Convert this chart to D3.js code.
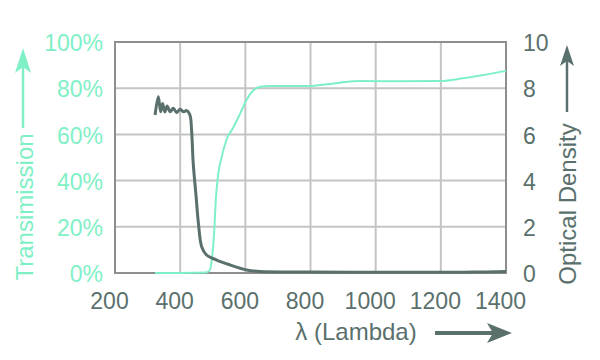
<!DOCTYPE html>
<html>
<head>
<meta charset="utf-8">
<script src="https://cdn.jsdelivr.net/npm/d3@7"></script>
<style>
  body { margin: 0; background: #fff; }
  svg { display: block; font-family: "Liberation Sans", Arial, sans-serif; }
</style>
</head>
<body>
<div id="chart"></div>
<script>
// wavelength ticks (nm)
const xTicks = [200, 400, 600, 800, 1000, 1200, 1400];
const pctTicks = [0, 20, 40, 60, 80, 100];
const odTicks = [0, 2, 4, 6, 8, 10];

// optical density curve (dark)
const odLambda = [323, 333, 340, 346, 353, 360, 369, 379, 389, 400, 410, 420, 430, 435, 440, 449, 456, 466, 481, 512, 553, 604, 645, 800, 1000, 1200, 1300, 1400];
const odValues = [6.84, 7.63, 6.98, 7.34, 6.97, 7.23, 6.98, 7.13, 6.95, 7.09, 6.98, 7.03, 6.84, 6.19, 4.76, 3.30, 2.15, 1.14, 0.78, 0.56, 0.35, 0.13, 0.06, 0.04, 0.03, 0.03, 0.04, 0.06];

// transmission curve (green)
const trLambda = [323, 400, 480, 490, 497, 504, 510, 517, 527, 543, 563, 584, 604, 624, 645, 676, 800, 891, 952, 1075, 1198, 1268, 1330, 1400];
const trValues = [0, 0, 0.2, 1, 5.6, 17, 33, 43, 50, 58, 63, 69, 75, 79, 80.6, 81, 81, 82.4, 83.1, 83, 83.1, 84.3, 85.7, 87.5];

const width = 600, height = 360;
const plotLeft = 115, plotRight = 506, plotTop = 42, plotBottom = 273;

const green = '#7ff0c6';
const dark = '#5a706c';

const x = d3.scaleLinear().domain([200, 1400]).range([plotLeft, plotRight]);
const yPct = d3.scaleLinear().domain([0, 100]).range([plotBottom, plotTop]);
const yOd = d3.scaleLinear().domain([0, 10]).range([plotBottom, plotTop]);

const svg = d3.select('#chart').append('svg')
    .attr('width', width)
    .attr('height', height);

// grid
const grid = svg.append('g');
grid.selectAll('line.v')
    .data(xTicks.slice(1, -1))
    .enter().append('line')
        .attr('x1', d => x(d)).attr('x2', d => x(d))
        .attr('y1', plotTop).attr('y2', plotBottom)
        .attr('stroke', '#c4c4c4').attr('stroke-width', 2);
grid.selectAll('line.h')
    .data(pctTicks.slice(1, -1))
    .enter().append('line')
        .attr('x1', plotLeft).attr('x2', plotRight)
        .attr('y1', d => yPct(d)).attr('y2', d => yPct(d))
        .attr('stroke', '#c4c4c4').attr('stroke-width', 2);
svg.append('rect')
    .attr('x', plotLeft).attr('y', plotTop)
    .attr('width', plotRight - plotLeft).attr('height', plotBottom - plotTop)
    .attr('fill', 'none')
    .attr('stroke', '#8e8e8e').attr('stroke-width', 2);

// axes (labels only)
const xAxis = svg.append('g')
    .attr('transform', `translate(0, ${plotBottom})`)
    .call(d3.axisBottom(x).tickValues(xTicks).tickSize(0).tickPadding(0).tickFormat(d3.format('d')));
xAxis.select('.domain').remove();
xAxis.selectAll('text')
    .attr('y', 36).attr('dy', 0).attr('dx', -6)
    .attr('fill', dark).attr('font-size', 23).attr('font-family', null);

const lAxis = svg.append('g')
    .attr('transform', `translate(${plotLeft}, 0)`)
    .call(d3.axisLeft(yPct).tickValues(pctTicks).tickSize(0).tickFormat(d => d + '%'));
lAxis.select('.domain').remove();
lAxis.selectAll('text')
    .attr('x', -12).attr('dy', '0.38em')
    .attr('fill', green).attr('font-size', 23).attr('font-family', null);

const rAxis = svg.append('g')
    .attr('transform', `translate(${plotRight}, 0)`)
    .call(d3.axisRight(yOd).tickValues(odTicks).tickSize(0));
rAxis.select('.domain').remove();
rAxis.selectAll('text')
    .attr('x', 17).attr('dy', '0.38em')
    .attr('fill', dark).attr('font-size', 23).attr('font-family', null);

// curves
const trLine = d3.line()
    .x(d => x(d[0])).y(d => yPct(d[1]))
    .curve(d3.curveMonotoneX);
svg.append('path')
    .datum(trLambda.map((l, i) => [l, trValues[i]]))
    .attr('d', trLine)
    .attr('fill', 'none').attr('stroke', green).attr('stroke-width', 2);

const odLine = d3.line()
    .x(d => x(d[0])).y(d => yOd(d[1]))
    .curve(d3.curveCatmullRom.alpha(0.5));
svg.append('path')
    .datum(odLambda.map((l, i) => [l, odValues[i]]))
    .attr('d', odLine)
    .attr('fill', 'none').attr('stroke', dark).attr('stroke-width', 3)
    .attr('stroke-linejoin', 'round');

// titles + arrows
svg.append('text')
    .attr('transform', 'translate(33, 207) rotate(-90)')
    .attr('text-anchor', 'middle')
    .attr('fill', green).attr('font-size', 24)
    .text('Transimission');
svg.append('line')
    .attr('x1', 23).attr('x2', 23).attr('y1', 128).attr('y2', 62)
    .attr('stroke', green).attr('stroke-width', 2.5);
svg.append('path')
    .attr('d', 'M23,48 L15,73 L23,67 L31,73 Z')
    .attr('fill', green);

svg.append('text')
    .attr('transform', 'translate(576, 204) rotate(-90)')
    .attr('text-anchor', 'middle')
    .attr('fill', dark).attr('font-size', 24)
    .text('Optical Density');
svg.append('line')
    .attr('x1', 567).attr('x2', 567).attr('y1', 112).attr('y2', 60)
    .attr('stroke', dark).attr('stroke-width', 2.5);
svg.append('path')
    .attr('d', 'M567,45 L560,66 L567,61 L574,66 Z')
    .attr('fill', dark);

svg.append('text')
    .attr('x', 356).attr('y', 340)
    .attr('text-anchor', 'middle')
    .attr('fill', dark).attr('font-size', 24)
    .text('λ (Lambda)');
svg.append('line')
    .attr('x1', 435).attr('x2', 496).attr('y1', 333).attr('y2', 333)
    .attr('stroke', dark).attr('stroke-width', 4);
svg.append('path')
    .attr('d', 'M512,333 L487,323 L493,333 L487,343 Z')
    .attr('fill', dark);
</script>
</body>
</html>
